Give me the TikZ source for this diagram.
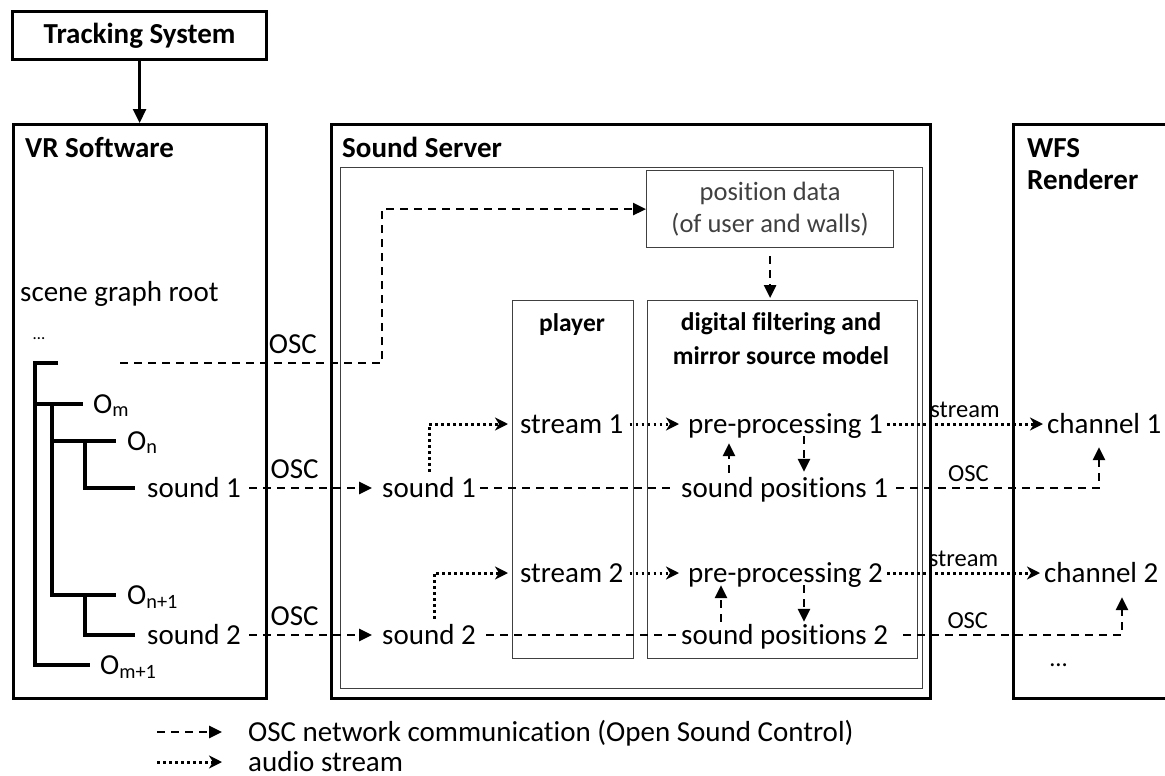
\documentclass[tikz,border=0pt]{standalone}
\usepackage{fontspec}
\setmainfont{Carlito}[Ligatures=CommonOff]
\usetikzlibrary{arrows.meta}

\begin{document}
\begin{tikzpicture}[
		x=1pt, y=-1pt,
		every node/.style={inner sep=0pt},
		box/.style={draw, line width=3.2pt, anchor=north west},
		subbox/.style={draw=black!75, line width=1.2pt, anchor=north west},
		title/.style={font=\fontsize{29}{32}\selectfont\bfseries, anchor=base west},
		subtitle/.style={font=\fontsize{25.5}{34}\selectfont\bfseries, align=center},
		lbl/.style={font=\fontsize{29}{32}\selectfont, anchor=west, text height=18pt, text depth=0pt},
		smalltag/.style={font=\fontsize{24.5}{28}\selectfont},
		branch/.style={line width=3.5pt},
		oscline/.style={line width=2.6pt, dash pattern=on 8pt off 6pt},
		osc/.style={oscline, -{Triangle[length=13pt,width=12pt]}},
		audio/.style={line width=3pt, dash pattern=on 2.6pt off 3.4pt, -{Stealth[length=13pt,width=13pt,inset=4pt]}}
		]
		\useasboundingbox (0,0) rectangle (1165,776);

		% the three programs
		\node[box, minimum width=254pt, minimum height=48pt, font=\fontsize{29}{32}\selectfont\bfseries] (track) at (11,10) {Tracking System};
		\node[box, minimum width=253pt, minimum height=574pt] (vr) at (12,123) {};
		\node[box, minimum width=599pt, minimum height=574pt] (server) at (330,123) {};
		\node[subbox, minimum width=582pt, minimum height=521pt] (core) at (340,167) {};
		\node[box, minimum width=180pt, minimum height=574pt] (wfs) at (1012,123) {};
		\node[title] at (25,157) {VR Software};
		\node[title] at (342,157) {Sound Server};
		\node[title, align=left] at (1027,189) {WFS\\Renderer};

		\draw[line width=2.6pt, -{Triangle[length=14pt,width=13pt]}] (track.south) -- (track.south |- vr.north);

		% inside the sound server
		\node[subbox, minimum width=247pt, minimum height=77pt, align=center, text=black!75, font=\fontsize{26.5}{32}\selectfont] (posdata) at (646,170) {position data\\(of user and walls)};
		\node[subbox, minimum width=121pt, minimum height=358pt] (player) at (512,300) {};
		\node[subbox, minimum width=270pt, minimum height=358pt] (filter) at (647,300) {};
		\node[subtitle, anchor=base] at (572,331) {player};
		\node[subtitle] at (781,339) {digital filtering and\\mirror source model};

		% scene graph
		\node[lbl] (root) at (20,292) {scene graph root};
		\node[font=\fontsize{17}{20}\selectfont, anchor=base west] (rootdots) at (33,339) {\dots};
		\node[lbl] (om) at (93,404) {O\textsubscript{m}};
		\node[lbl] (on) at (127,441) {O\textsubscript{n}};
		\node[lbl] (vrsnd1) at (147,488) {sound 1};
		\node[lbl] (on1) at (127,595) {O\textsubscript{n+1}};
		\node[lbl] (vrsnd2) at (147,635) {sound 2};
		\node[lbl] (om1) at (100,665) {O\textsubscript{m+1}};

		\draw[branch] (58,363) -| (35,665) -- ([xshift=-10pt]om1.west);
		\draw[branch] (35,404) -- ([xshift=-10pt]om.west);
		\draw[branch] (52,404) |- ([xshift=-11pt]on1.west);
		\draw[branch] (52,441) -- ([xshift=-11pt]on.west);
		\draw[branch] (85,441) |- ([xshift=-12pt]vrsnd1.west);
		\draw[branch] (85,595) |- ([xshift=-12pt]vrsnd2.west);

		% sources, streams and channels
		\node[lbl] (srvsnd1) at (382,488) {sound 1};
		\node[lbl] (srvsnd2) at (382,635) {sound 2};
		\node[lbl] (str1) at (520,424) {stream 1};
		\node[lbl] (str2) at (520,573) {stream 2};
		\node[lbl] (pre1) at (688,424) {pre-processing 1};
		\node[lbl] (pre2) at (688,573) {pre-processing 2};
		\node[lbl] (pos1) at (681,488) {sound positions 1};
		\node[lbl] (pos2) at (681,635) {sound positions 2};
		\node[lbl] (ch1) at (1047,424) {channel 1};
		\node[lbl] (ch2) at (1044,573) {channel 2};
		\node[smalltag, anchor=base west] (chdots) at (1050,666) {\dots};

		% OSC messages
		\coordinate (rootout) at (120,363);
		\coordinate (oscup) at (382,363);
		\draw[osc] (rootout) -- node[pos=0.66, lbl, above=8pt] {OSC} (oscup) |- (posdata.west);
		\draw[osc, shorten <=8pt, shorten >=10pt] (vrsnd1.east) -- node[pos=0.38, lbl, above=8pt] {OSC} (srvsnd1.west);
		\draw[osc, shorten <=8pt, shorten >=10pt] (vrsnd2.east) -- node[pos=0.38, lbl, above=8pt] {OSC} (srvsnd2.west);
		\draw[osc, shorten <=8pt, shorten >=2pt] (posdata.south) -- (posdata.south |- filter.north);
		\draw[oscline, shorten <=4pt, shorten >=10pt] (srvsnd1.east) -- (pos1.west);
		\draw[oscline, shorten <=10pt, shorten >=4pt] (srvsnd2.east) -- (pos2.west);
		\draw[osc, shorten <=6pt, shorten >=10pt] ([xshift=48pt]pos1.north west) -- ([xshift=41pt]pre1.south west);
		\draw[osc, shorten <=3pt, shorten >=7pt] ([xshift=116pt]pre1.south west) -- ([xshift=123pt]pos1.north west);
		\draw[osc, shorten <=4pt, shorten >=3pt] ([xshift=40pt]pos2.north west) -- ([xshift=33pt]pre2.south west);
		\draw[osc, shorten <=3pt, shorten >=4pt] ([xshift=116pt]pre2.south west) -- ([xshift=123pt]pos2.north west);
		\draw[osc, shorten <=8pt, shorten >=14pt] (pos1.east) -| node[pos=0.19, smalltag, above=5pt] {OSC} ([xshift=52pt]ch1.south west);
		\draw[osc, shorten <=15pt, shorten >=15pt] (pos2.east) -| node[pos=0.17, smalltag, above=5pt] {OSC} ([xshift=78pt]ch2.south west);

		% audio streams
		\draw[audio, shorten <=7pt, shorten >=12pt] (srvsnd1.north) |- (str1.west);
		\draw[audio, shorten <=7pt, shorten >=12pt] ([xshift=5pt]srvsnd2.north) |- (str2.west);
		\draw[audio, shorten <=6pt, shorten >=9pt] (str1.east) -- (pre1.west);
		\draw[audio, shorten <=6pt, shorten >=9pt] (str2.east) -- (pre2.west);
		\draw[audio, shorten <=4pt, shorten >=4pt] (pre1.east) -- node[midway, smalltag, above=5pt] {stream} (ch1.west);
		\draw[audio, shorten <=4pt, shorten >=4pt] (pre2.east) -- node[midway, smalltag, above=5pt] {stream} (ch2.west);

		% legend
		\node[lbl] (keyosc) at (248,732) {OSC network communication (Open Sound Control)};
		\node[lbl] (keyaudio) at (248,762) {audio stream};
		\coordinate (keyoscstart) at (157,732);
		\coordinate (keyaudiostart) at (157,762);
		\draw[osc, shorten >=26pt] (keyoscstart) -- (keyosc.west);
		\draw[audio, shorten >=26pt] (keyaudiostart) -- (keyaudio.west);
\end{tikzpicture}
\end{document}
